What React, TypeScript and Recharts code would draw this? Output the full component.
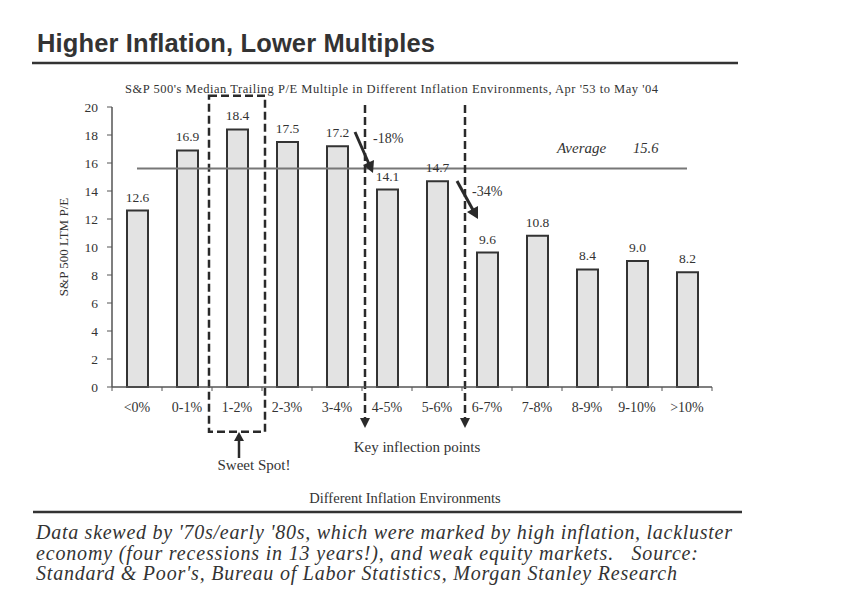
import React from 'react';
import { BarChart, Bar, XAxis, YAxis, ReferenceLine, ReferenceArea, LabelList } from 'recharts';

const categories = ['<0%', '0-1%', '1-2%', '2-3%', '3-4%', '4-5%', '5-6%', '6-7%', '7-8%', '8-9%', '9-10%', '>10%'];
const peValues = [12.6, 16.9, 18.4, 17.5, 17.2, 14.1, 14.7, 9.6, 10.8, 8.4, 9.0, 8.2];
const yTicks = [0, 2, 4, 6, 8, 10, 12, 14, 16, 18, 20];
const averagePE = 15.6;
const sweetSpot = '1-2%';
const inflectionPoints = ['4-5%', '6-7%'];
const dropLabels = ['-18%', '-34%'];

const data = categories.map((c, i) => ({ cat: c, pe: peValues[i] }));

const SERIF = '"Liberation Serif", "Times New Roman", serif';
const SANS = '"Liberation Sans", Arial, sans-serif';
const INK = '#2a2a2a';

const XTick = (props: any) => {
  const { x, y, payload, index } = props;
  const half = payload && payload.offset ? payload.offset : 25;
  return (
    <g>
      <line x1={x - half} y1={y} x2={x - half} y2={y + 4} stroke="#555" strokeWidth={1} />
      {index === categories.length - 1 ? (
        <line x1={x + half} y1={y} x2={x + half} y2={y + 4} stroke="#555" strokeWidth={1} />
      ) : null}
      <text x={x} y={y + 25} textAnchor="middle" fontFamily={SERIF} fontSize={14} fill="#333">
        {payload.value}
      </text>
    </g>
  );
};

const DashedBox = (props: any) => {
  const { x, y, width, height } = props;
  return (
    <rect x={x - 3} y={y} width={width + 6} height={height} fill="none" stroke={INK}
      strokeWidth={2.5} strokeDasharray="8 4" />
  );
};

const DashedArrowLine = (props: any) => {
  const { x1, y1, y2 } = props;
  const x = x1 + 3;
  const top = Math.min(y1, y2) - 2;
  const bottom = Math.max(y1, y2) + 33;
  return (
    <g>
      <line x1={x} y1={top} x2={x} y2={bottom} stroke={INK} strokeWidth={2.5} strokeDasharray="8 4" />
      <polygon points={`${x - 5},${bottom - 2} ${x + 5},${bottom - 2} ${x},${bottom + 8}`} fill={INK} />
    </g>
  );
};

const W = 863;
const H = 603;

export default function App() {
  return (
    <div style={{ position: 'absolute', left: 0, top: 0, width: W, height: H, background: '#fff' }}>
      <BarChart width={W} height={H} data={data} margin={{ top: 107, right: 151, bottom: 186, left: 62 }}>
        <XAxis dataKey="cat" type="category" height={30} tickSize={0} tickMargin={0} tickLine={false}
          axisLine={{ stroke: '#555', strokeWidth: 1.5 }} tick={<XTick />} interval={0} />
        <YAxis type="number" domain={[0, 20]} ticks={yTicks} width={50} tickSize={5} tickMargin={9}
          axisLine={{ stroke: '#555', strokeWidth: 1.5 }} tickLine={{ stroke: '#555' }}
          tick={{ fontFamily: SERIF, fontSize: 13.5, fill: '#333' }} interval={0} />
        <ReferenceArea x1={sweetSpot} x2={sweetSpot} y1={20.8} y2={-3.2} ifOverflow="visible" shape={DashedBox} />
        <Bar dataKey="pe" fill="#e3e3e3" stroke="#333" strokeWidth={2} barSize={21} isAnimationActive={false}>
          <LabelList dataKey="pe" position="top" offset={9}
            formatter={(v: any) => Number(v).toFixed(1)}
            style={{ fontFamily: SERIF, fontSize: 13.5, fill: '#333' }} />
        </Bar>
        <ReferenceLine segment={[{ x: categories[0], y: averagePE }, { x: categories[categories.length - 1], y: averagePE }]}
          stroke="#777" strokeWidth={2} ifOverflow="visible" />
        {inflectionPoints.map((c) => (
          <ReferenceLine key={c} x={c} position="start" ifOverflow="visible" shape={DashedArrowLine} stroke={INK} />
        ))}
      </BarChart>
      <svg width={W} height={H} style={{ position: 'absolute', left: 0, top: 0, pointerEvents: 'none' }}>
        <text x={37} y={52} fontFamily={SANS} fontWeight="bold" fontSize={25.5} fill="#333" textLength={398} lengthAdjust="spacing">
          Higher Inflation, Lower Multiples
        </text>
        <line x1={32} y1={63} x2={738} y2={63} stroke="#333" strokeWidth={2.5} />
        <text x={125} y={93} fontFamily={SERIF} fontSize={12.5} fill="#333" textLength={533} lengthAdjust="spacing">
          S&amp;P 500's Median Trailing P/E Multiple in Different Inflation Environments, Apr '53 to May '04
        </text>
        <text x={65} y={247} transform="rotate(-90 65 247)" textAnchor="middle" dominantBaseline="middle"
          fontFamily={SERIF} fontSize={13} fill="#333">
          S&amp;P 500 LTM P/E
        </text>
        <text x={557} y={153} fontFamily={SERIF} fontStyle="italic" fontSize={15} fill="#333">Average</text>
        <text x={633} y={153} fontFamily={SERIF} fontStyle="italic" fontSize={14.5} fill="#333">{averagePE.toFixed(1)}</text>

        <text x={373} y={143} fontFamily={SERIF} fontSize={14} fill="#333">{dropLabels[0]}</text>
        <line x1={355} y1={132} x2={369} y2={164} stroke={INK} strokeWidth={3} />
        <polygon points="363,165 374,160 373,173" fill={INK} />
        <text x={472} y={196} fontFamily={SERIF} fontSize={14} fill="#333">{dropLabels[1]}</text>
        <line x1={457} y1={181} x2={473} y2={210} stroke={INK} strokeWidth={3} />
        <polygon points="467,212 478,206 478,219" fill={INK} />

        <line x1={239} y1={458} x2={239} y2={440} stroke={INK} strokeWidth={2.5} />
        <polygon points="234,441 244,441 239,432" fill={INK} />
        <text x={254} y={470} textAnchor="middle" fontFamily={SERIF} fontSize={15} fill="#333">Sweet Spot!</text>
        <text x={417} y={452} textAnchor="middle" fontFamily={SERIF} fontSize={15} fill="#333">Key inflection points</text>

        <text x={405} y={503} textAnchor="middle" fontFamily={SERIF} fontSize={14.5} fill="#333">Different Inflation Environments</text>
        <line x1={33} y1={512} x2={742} y2={512} stroke="#333" strokeWidth={2.5} />
        <text x={36} y={539} fontFamily={SERIF} fontStyle="italic" fontSize={20} fill="#333" textLength={696} lengthAdjust="spacing">
          Data skewed by '70s/early '80s, which were marked by high inflation, lackluster
        </text>
        <text x={36} y={560} fontFamily={SERIF} fontStyle="italic" fontSize={20} fill="#333" textLength={662} lengthAdjust="spacing" xmlSpace="preserve">
          economy (four recessions in 13 years!), and weak equity markets.   Source:
        </text>
        <text x={36} y={580} fontFamily={SERIF} fontStyle="italic" fontSize={20} fill="#333" textLength={641} lengthAdjust="spacing">
          Standard &amp; Poor's, Bureau of Labor Statistics, Morgan Stanley Research
        </text>
      </svg>
    </div>
  );
}
